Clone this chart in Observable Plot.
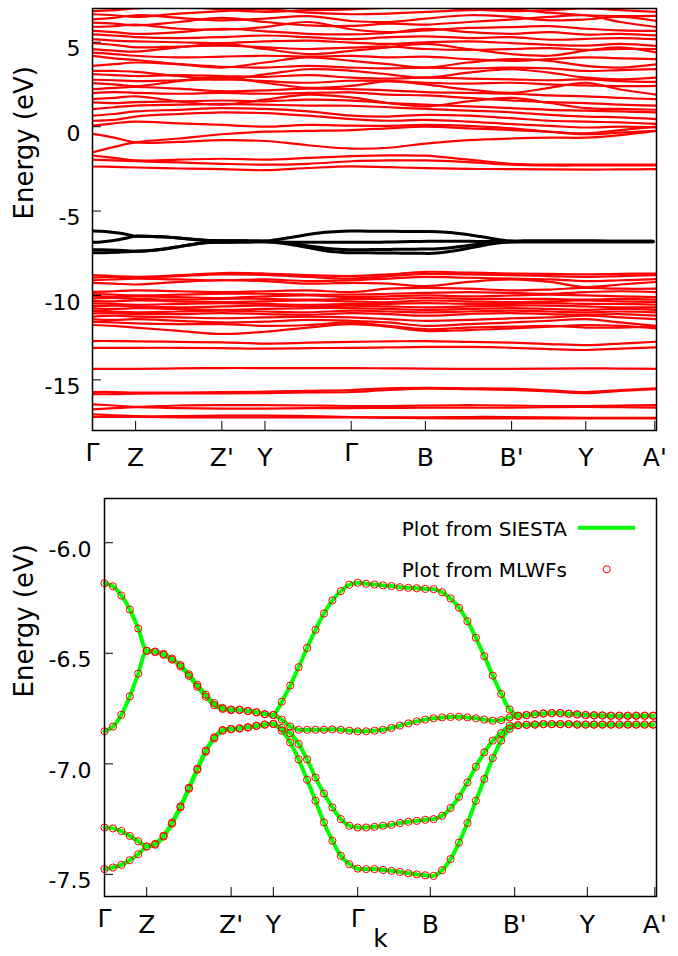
<!DOCTYPE html>
<html><head><meta charset="utf-8">
<script src="https://cdn.jsdelivr.net/npm/d3@7"></script>
<script src="https://cdn.jsdelivr.net/npm/@observablehq/plot@0.6"></script>
<style>
body{margin:0;background:#fff;}
#chart{width:678px;height:956px;position:relative;}
#chart svg{display:block;}
</style></head><body><div id="chart"></div>
<script>
// high-symmetry path (k in sample-index units)
const kTicks = [0, 5, 15, 20, 30, 38.6, 48.6, 57.2, 65.2];
const kLabels = ["Γ", "Z", "Z'", "Y", "Γ", "B", "B'", "Y", "A'"];
const topYTicks = [5, 0, -5, -10, -15];
const bottomYTicks = [-6.0, -6.5, -7.0, -7.5];

// k positions at which the full band structure (top panel) was read
const sampleK = [0, 2.5, 5, 10, 15, 20, 25, 30, 34.3, 38.6, 43.6, 48.6, 53, 57.2, 61.2, 65.4];

// conduction bands (red, top panel), eV
const conductionBands = [
  [6.85, 6.9, 7.0, 7.1, 6.95, 6.8, 6.9, 6.95, 7.05, 7.1, 6.95, 6.85, 6.9, 7.0, 6.9, 6.8],
  [6.66, 6.6, 6.5, 6.7, 6.85, 6.95, 6.75, 6.66, 6.7, 6.8, 6.9, 6.95, 6.75, 6.6, 6.55, 6.56],
  [6.36, 6.45, 6.6, 6.45, 6.3, 6.4, 6.55, 6.26, 6.2, 6.4, 6.6, 6.5, 6.3, 6.35, 6.5, 6.26],
  [6.16, 6.1, 6.0, 6.2, 6.45, 6.2, 6.0, 5.97, 6.1, 6.05, 6.2, 6.35, 6.5, 6.6, 6.2, 5.9],
  [5.92, 5.95, 6.05, 5.8, 5.75, 5.9, 6.2, 5.77, 5.6, 5.7, 5.85, 5.9, 5.95, 5.8, 5.7, 5.67],
  [5.67, 5.6, 5.5, 5.6, 5.8, 5.65, 5.5, 5.47, 5.55, 5.8, 5.6, 5.5, 5.6, 5.45, 5.5, 5.4],
  [5.47, 5.4, 5.3, 5.25, 5.3, 5.4, 5.3, 5.18, 5.3, 5.35, 5.25, 5.3, 5.15, 5.2, 5.25, 5.18],
  [5.18, 5.1, 5.05, 5.0, 4.95, 5.05, 5.1, 4.98, 4.9, 5.0, 5.05, 4.95, 4.85, 4.8, 4.9, 4.78],
  [4.94, 4.85, 4.7, 4.75, 4.8, 4.7, 4.6, 4.68, 4.75, 4.6, 4.55, 4.6, 4.65, 4.55, 4.6, 4.6],
  [4.59, 4.5, 4.45, 4.7, 4.9, 4.6, 4.3, 4.49, 4.7, 4.9, 4.6, 4.3, 4.2, 4.5, 4.7, 4.39],
  [4.39, 4.3, 4.2, 4.1, 4.15, 4.2, 4.15, 4.19, 4.1, 4.15, 4.0, 3.9, 4.0, 4.1, 4.05, 4.0],
  [4.19, 4.05, 3.95, 3.7, 3.5, 3.8, 4.1, 3.9, 3.7, 3.5, 3.8, 4.0, 3.9, 3.6, 3.5, 3.7],
  [3.6, 3.7, 3.8, 3.7, 3.55, 3.5, 3.6, 3.5, 3.45, 3.5, 3.45, 3.5, 3.45, 3.3, 3.35, 3.41],
  [3.31, 3.3, 3.25, 3.0, 2.8, 3.1, 3.4, 3.31, 3.1, 2.9, 3.2, 3.4, 3.2, 2.9, 2.8, 2.91],
  [3.11, 3.05, 3.0, 3.05, 3.0, 2.95, 3.05, 2.91, 2.85, 2.9, 2.85, 2.8, 2.75, 2.8, 2.7, 2.65],
  [2.78, 2.75, 2.7, 2.75, 2.8, 2.7, 2.6, 2.72, 2.7, 2.6, 2.55, 2.6, 2.5, 2.45, 2.4, 2.42],
  [2.58, 2.5, 2.4, 2.7, 2.95, 2.6, 2.3, 2.42, 2.7, 2.5, 2.2, 2.0, 2.3, 2.6, 2.2, 1.9],
  [2.22, 2.3, 2.35, 2.25, 2.1, 2.15, 2.25, 2.22, 2.15, 2.05, 2.0, 1.95, 1.85, 1.8, 1.7, 1.63],
  [1.99, 2.05, 2.0, 1.95, 2.0, 1.95, 2.0, 2.03, 1.9, 1.85, 1.7, 1.55, 1.45, 1.4, 1.3, 1.24],
  [1.63, 1.7, 1.8, 1.5, 1.3, 1.6, 1.9, 1.73, 1.4, 1.2, 1.5, 1.7, 1.4, 1.1, 1.05, 1.0],
  [1.44, 1.4, 1.45, 1.5, 1.55, 1.5, 1.6, 1.54, 1.4, 1.3, 1.2, 1.1, 1.0, 0.95, 0.9, 0.85],
  [1.04, 1.15, 1.25, 1.3, 1.35, 1.3, 1.25, 1.24, 1.15, 1.05, 0.95, 0.85, 0.7, 0.6, 0.55, 0.45],
  [0.65, 0.75, 0.9, 1.0, 1.1, 1.05, 0.9, 0.65, 0.6, 0.7, 0.65, 0.5, 0.35, 0.3, 0.25, 0.16],
  [0.35, 0.4, 0.6, 0.75, 0.85, 0.8, 0.65, 0.45, 0.35, 0.4, 0.3, 0.15, 0.05, -0.05, 0.0, -0.04],
  [0.06, 0.2, 0.3, 0.2, 0.1, 0.0, 0.1, 0.06, 0.05, 0.1, 0.05, -0.1, -0.3, -0.45, -0.35, -0.25],
  [-1.52, -1.2, -0.93, -0.7, -0.45, -0.3, -0.25, -0.2, -0.1, 0.0, -0.1, -0.2, -0.3, -0.4, -0.2, 0.0],
  [-0.43, -0.65, -0.93, -0.9, -0.8, -0.85, -1.1, -1.3, -1.25, -1.0, -0.8, -0.7, -0.65, -0.65, -0.5, -0.25],
  [-1.71, -1.85, -2.0, -1.95, -1.9, -1.95, -1.85, -1.75, -1.7, -1.72, -1.95, -2.2, -2.25, -2.25, -2.25, -2.25],
  [-1.95, -2.0, -2.05, -2.12, -2.2, -2.25, -2.2, -2.05, -2.0, -2.0, -2.1, -2.25, -2.3, -2.3, -2.3, -2.3],
  [-2.36, -2.38, -2.42, -2.48, -2.52, -2.58, -2.45, -2.35, -2.4, -2.46, -2.5, -2.52, -2.53, -2.55, -2.53, -2.52]
];

// valence bands below the isolated group (red, top panel), eV
const valenceBands = [
  [-8.80, -8.85, -8.9, -8.8, -8.67, -8.7, -8.8, -8.85, -8.75, -8.6, -8.65, -8.7, -8.72, -8.75, -8.72, -8.7],
  [-8.94, -8.9, -8.95, -8.85, -8.75, -8.78, -8.9, -9.0, -8.85, -8.72, -8.75, -8.8, -8.85, -8.9, -8.85, -8.8],
  [-9.10, -9.05, -9.0, -9.05, -9.1, -9.05, -9.15, -9.1, -9.0, -8.9, -8.95, -9.0, -9.05, -9.15, -9.1, -9.03],
  [-9.25, -9.3, -9.35, -9.2, -9.1, -9.15, -9.3, -9.25, -9.3, -9.45, -9.2, -9.05, -9.2, -9.5, -9.35, -9.2],
  [-9.79, -9.75, -9.7, -9.75, -9.8, -9.75, -9.7, -9.8, -9.6, -9.55, -9.6, -9.7, -9.65, -9.55, -9.6, -9.6],
  [-9.92, -9.95, -10.0, -9.95, -9.9, -9.9, -9.95, -9.95, -9.9, -9.85, -9.8, -9.85, -9.9, -9.8, -9.75, -9.8],
  [-10.04, -10.1, -10.05, -10.1, -10.15, -10.05, -10.0, -10.1, -10.05, -10.0, -10.05, -10.0, -9.95, -10.0, -10.05, -10.1],
  [-10.18, -10.15, -10.2, -10.25, -10.2, -10.2, -10.25, -10.2, -10.2, -10.15, -10.2, -10.2, -10.2, -10.25, -10.2, -10.25],
  [-10.32, -10.35, -10.3, -10.35, -10.4, -10.35, -10.3, -10.35, -10.4, -10.3, -10.35, -10.4, -10.35, -10.3, -10.35, -10.4],
  [-10.47, -10.5, -10.55, -10.5, -10.45, -10.5, -10.55, -10.5, -10.5, -10.45, -10.5, -10.5, -10.45, -10.5, -10.5, -10.55],
  [-10.63, -10.6, -10.65, -10.7, -10.65, -10.6, -10.65, -10.6, -10.65, -10.7, -10.65, -10.6, -10.6, -10.65, -10.7, -10.7],
  [-10.77, -10.8, -10.75, -10.8, -10.85, -10.8, -10.75, -10.75, -10.8, -10.85, -10.8, -10.75, -10.8, -10.85, -10.8, -10.85],
  [-10.91, -10.95, -11.0, -10.95, -10.9, -10.95, -11.0, -10.9, -10.95, -11.0, -10.95, -10.9, -10.95, -11.0, -10.95, -11.0],
  [-11.06, -11.05, -11.1, -11.1, -11.05, -11.1, -11.15, -11.05, -11.1, -11.2, -11.1, -11.05, -11.1, -11.15, -11.1, -11.2],
  [-11.26, -11.2, -11.25, -11.3, -11.35, -11.3, -11.25, -11.3, -11.4, -11.5, -11.45, -11.35, -11.3, -11.2, -11.3, -11.4],
  [-11.42, -11.45, -11.4, -11.5, -11.6, -11.55, -11.45, -11.5, -11.6, -11.8, -11.7, -11.6, -11.5, -11.4, -11.6, -11.8],
  [-11.56, -11.6, -11.65, -11.7, -11.7, -11.8, -11.75, -11.6, -11.8, -12.0, -11.9, -11.85, -11.8, -11.9, -11.9, -11.85],
  [-11.75, -11.8, -11.9, -12.1, -12.28, -12.15, -11.9, -11.7, -11.85, -12.1, -12.05, -11.95, -11.85, -11.75, -11.8, -11.95],
  [-12.7, -12.7, -12.72, -12.75, -12.78, -12.85, -12.8, -12.75, -12.72, -12.7, -12.75, -12.8, -12.88, -12.94, -12.85, -12.74],
  [-13.1, -13.1, -13.1, -13.1, -13.12, -13.15, -13.12, -13.1, -13.08, -13.05, -13.05, -13.1, -13.18, -13.23, -13.15, -13.07],
  [-14.35, -14.35, -14.35, -14.32, -14.3, -14.3, -14.3, -14.3, -14.32, -14.33, -14.35, -14.35, -14.33, -14.32, -14.33, -14.35],
  [-15.72, -15.72, -15.75, -15.75, -15.72, -15.7, -15.65, -15.6, -15.5, -15.48, -15.5, -15.52, -15.62, -15.72, -15.6, -15.5],
  [-15.85, -15.85, -15.82, -15.8, -15.8, -15.78, -15.75, -15.72, -15.6, -15.52, -15.55, -15.6, -15.68, -15.78, -15.65, -15.55],
  [-16.45, -16.52, -16.6, -16.52, -16.5, -16.5, -16.52, -16.55, -16.55, -16.52, -16.5, -16.52, -16.55, -16.55, -16.52, -16.5],
  [-16.75, -16.68, -16.62, -16.68, -16.7, -16.7, -16.68, -16.68, -16.66, -16.65, -16.65, -16.65, -16.62, -16.6, -16.62, -16.65],
  [-17.05, -17.1, -17.15, -17.15, -17.12, -17.12, -17.15, -17.2, -17.22, -17.22, -17.2, -17.2, -17.22, -17.25, -17.25, -17.25],
  [-17.2, -17.2, -17.2, -17.22, -17.22, -17.22, -17.22, -17.22, -17.25, -17.27, -17.28, -17.28, -17.28, -17.28, -17.28, -17.28]
];

// isolated group of four bands (black in top panel; SIESTA line + MLWF circles in bottom panel), 66 k-points
const band1 = [-6.183, -6.197, -6.239, -6.302, -6.388, -6.489,
  -6.492, -6.503, -6.524, -6.553, -6.595, -6.643, -6.687, -6.725, -6.747, -6.754,
  -6.755, -6.760, -6.766, -6.775, -6.779, -6.719, -6.646, -6.563, -6.476, -6.394,
  -6.320, -6.261, -6.219, -6.190, -6.181, -6.186, -6.189, -6.193, -6.196, -6.201,
  -6.204, -6.206, -6.209, -6.210, -6.224, -6.252, -6.294, -6.355, -6.430, -6.513,
  -6.601, -6.684, -6.754, -6.782, -6.779, -6.775, -6.772, -6.770, -6.770, -6.773,
  -6.776, -6.779, -6.780, -6.781, -6.782, -6.782, -6.782, -6.782, -6.782, -6.782];
const band2 = [-6.853, -6.832, -6.778, -6.695, -6.592, -6.489,
  -6.495, -6.507, -6.529, -6.559, -6.602, -6.651, -6.696, -6.735, -6.752, -6.757,
  -6.757, -6.762, -6.768, -6.776, -6.779, -6.800, -6.831, -6.846, -6.846, -6.846,
  -6.846, -6.844, -6.846, -6.850, -6.853, -6.853, -6.850, -6.846, -6.838, -6.827,
  -6.817, -6.808, -6.800, -6.794, -6.790, -6.788, -6.787, -6.790, -6.794, -6.800,
  -6.805, -6.802, -6.790, -6.784, -6.780, -6.776, -6.773, -6.771, -6.771, -6.774,
  -6.777, -6.780, -6.781, -6.782, -6.783, -6.783, -6.783, -6.783, -6.783, -6.783];
const band3 = [-7.288, -7.292, -7.304, -7.326, -7.350, -7.374,
  -7.362, -7.325, -7.266, -7.192, -7.108, -7.022, -6.940, -6.880, -6.847, -6.842,
  -6.839, -6.834, -6.827, -6.822, -6.819, -6.838, -6.861, -6.910, -6.980, -7.062,
  -7.134, -7.197, -7.250, -7.280, -7.288, -7.288, -7.285, -7.280, -7.276, -7.268,
  -7.262, -7.258, -7.253, -7.250, -7.235, -7.200, -7.149, -7.084, -7.013, -6.948,
  -6.895, -6.861, -6.827, -6.825, -6.823, -6.822, -6.820, -6.820, -6.820, -6.820,
  -6.822, -6.822, -6.822, -6.822, -6.822, -6.822, -6.822, -6.822, -6.822, -6.822];
const band4 = [-7.476, -7.469, -7.457, -7.436, -7.409, -7.374,
  -7.366, -7.329, -7.271, -7.197, -7.113, -7.027, -6.945, -6.885, -6.850, -6.844,
  -6.841, -6.836, -6.829, -6.823, -6.820, -6.850, -6.903, -6.980, -7.072, -7.167,
  -7.265, -7.348, -7.416, -7.454, -7.474, -7.476, -7.476, -7.480, -7.484, -7.489,
  -7.495, -7.500, -7.504, -7.507, -7.481, -7.431, -7.356, -7.268, -7.167, -7.069,
  -6.974, -6.895, -6.842, -6.826, -6.824, -6.823, -6.821, -6.821, -6.821, -6.821,
  -6.823, -6.823, -6.823, -6.823, -6.823, -6.823, -6.823, -6.823, -6.823, -6.823];

const legendLabels = ["Plot from SIESTA", "Plot from MLWFs"];

// ---- build tidy tables ----
const redData = [...conductionBands, ...valenceBands].flatMap((vals, b) =>
  vals.map((e, j) => ({k: sampleK[j], e, band: b})));
const groupData = [band1, band2, band3, band4].flatMap((vals, b) =>
  vals.map((e, i) => ({k: i, e, band: b})));
const tickData = kTicks.map((k, i) => ({k, label: kLabels[i]}));
const gammaTicks = tickData.filter(d => d.label === "Γ");
const otherTicks = tickData.filter(d => d.label !== "Γ");

const FONT = "DejaVu Sans";

function xLabels(dyG, dyO) {
  return [
    Plot.text(otherTicks, {x: "k", text: "label", frameAnchor: "bottom", dy: dyO, lineAnchor: "bottom", fontSize: 25}),
    Plot.text(gammaTicks, {x: "k", text: "label", frameAnchor: "bottom", dy: dyG, lineAnchor: "bottom", fontSize: 25})
  ];
}

const W = 678;
// ---- top panel ----
const topH = 475, tMT = 8, tMB = 45, tML = 92, tMR = 22;
const topPlot = Plot.plot({
  width: W, height: topH,
  marginTop: tMT, marginBottom: tMB, marginLeft: tML, marginRight: tMR,
  style: {fontFamily: FONT, fontSize: "22px", background: "white", color: "black"},
  x: {domain: [0, 65.4], axis: null},
  y: {domain: [-18, 7], axis: null},
  marks: [
    Plot.line(redData, {x: "k", y: "e", z: "band", stroke: "#ff0000", strokeWidth: 2.2, curve: "catmull-rom", clip: true}),
    Plot.line(groupData, {x: "k", y: "e", z: "band", stroke: "black", strokeWidth: 3, curve: "catmull-rom", clip: true}),
    Plot.tickX(kTicks, {x: d => d, insetTop: (topH - tMT - tMB) - 9, stroke: "black", strokeWidth: 1}),
    Plot.tickY(topYTicks, {y: d => d, insetRight: (W - tML - tMR) - 9, stroke: "black", strokeWidth: 1}),
    Plot.frame({stroke: "black", strokeWidth: 1.5}),
    Plot.text(topYTicks, {y: d => d, text: d => String(d), frameAnchor: "left", dx: -12, dy: 7, textAnchor: "end", fontSize: 22}),
    ...xLabels(30, 35),
    Plot.text(["Energy (eV)"], {frameAnchor: "left", dx: -68, rotate: -90, fontSize: 26})
  ]
});

// ---- bottom panel ----
const botH = 481, bMT = 23, bMB = 60, bML = 104, bMR = 22;
const botPlot = Plot.plot({
  width: W, height: botH,
  marginTop: bMT, marginBottom: bMB, marginLeft: bML, marginRight: bMR,
  style: {fontFamily: FONT, fontSize: "22px", background: "white", color: "black"},
  x: {domain: [0, 65.4], axis: null},
  y: {domain: [-7.6, -5.8], axis: null},
  marks: [
    Plot.line(groupData, {x: "k", y: "e", z: "band", stroke: "#00ff00", strokeWidth: 4, curve: "catmull-rom"}),
    Plot.dot(groupData, {x: "k", y: "e", r: 3.6, stroke: "#ff0000", strokeWidth: 1, fill: "none"}),
    Plot.tickX(kTicks, {x: d => d, insetTop: (botH - bMT - bMB) - 9, stroke: "black", strokeWidth: 1}),
    Plot.tickY(bottomYTicks, {y: d => d, insetRight: (W - bML - bMR) - 9, stroke: "black", strokeWidth: 1}),
    Plot.frame({stroke: "black", strokeWidth: 1.5}),
    Plot.text(bottomYTicks, {y: d => d, text: d => d.toFixed(1), frameAnchor: "left", dx: -13, dy: 7, textAnchor: "end", fontSize: 22}),
    ...xLabels(30, 36),
    Plot.text(["Energy (eV)"], {frameAnchor: "left", dx: -80, rotate: -90, fontSize: 26}),
    Plot.text(["k"], {frameAnchor: "bottom", dy: 42, lineAnchor: "middle", fontSize: 25})
  ]
});

// legend (inside bottom panel, top-right)
const lg = d3.select(botPlot).append("g").attr("font-family", FONT).attr("font-size", 20);
lg.append("text").attr("x", 567).attr("y", 60.5).attr("text-anchor", "end").attr("fill", "black").text(legendLabels[0]);
lg.append("line").attr("x1", 578).attr("x2", 635).attr("y1", 52.7).attr("y2", 52.7).attr("stroke", "#00ff00").attr("stroke-width", 4);
lg.append("text").attr("x", 567).attr("y", 101.5).attr("text-anchor", "end").attr("fill", "black").text(legendLabels[1]);
lg.append("circle").attr("cx", 606.7).attr("cy", 94.3).attr("r", 3.6).attr("fill", "none").attr("stroke", "#ff0000").attr("stroke-width", 1);

const chart = document.getElementById("chart");
chart.appendChild(topPlot);
chart.appendChild(botPlot);
</script>
</body></html>
